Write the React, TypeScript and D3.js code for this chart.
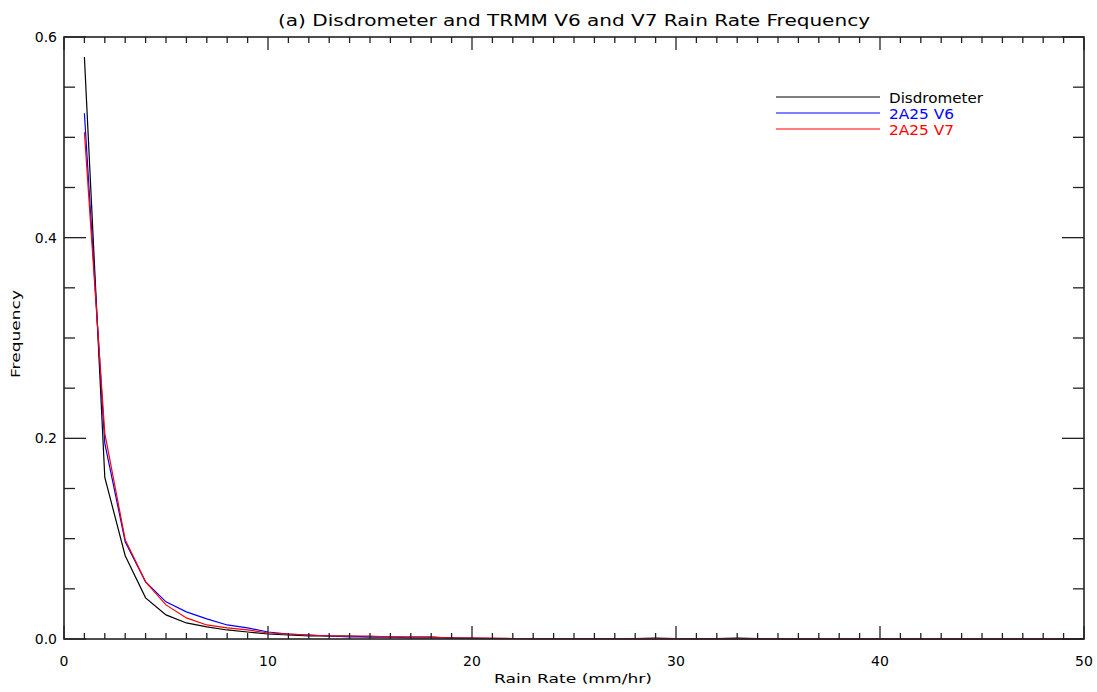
import React from "react";
import * as d3 from "d3";

const rainRate: number[] = d3.range(1, 51);

const disdrometer: number[] = [
  0.58, 0.161, 0.083, 0.041, 0.024, 0.016, 0.012, 0.009, 0.007, 0.005,
  0.004, 0.003, 0.003, 0.003, 0.002, 0.002, 0.002, 0.002, 0.001, 0.001,
  0.0005, 0.0005, 0.0005, 0.0005, 0.0005, 0.0005, 0.0005, 0.0005, 0.001, 0.0005,
  0.0005, 0.0005, 0.001, 0.0005, 0, 0, 0, 0, 0, 0,
  0, 0, 0, 0, 0, 0, 0, 0, 0, 0,
];

const v6: number[] = [
  0.524, 0.195, 0.097, 0.057, 0.037, 0.027, 0.02, 0.014, 0.011, 0.007,
  0.005, 0.004, 0.003, 0.002, 0.002, 0.002, 0.001, 0.001, 0.001, 0.0003,
  0.0003, 0.0003, 0, 0, 0, 0, 0, 0, 0, 0,
  0, 0, 0, 0, 0, 0, 0, 0, 0, 0,
  0, 0, 0, 0, 0, 0, 0, 0, 0, 0,
];

const v7: number[] = [
  0.505, 0.205, 0.099, 0.057, 0.034, 0.021, 0.014, 0.011, 0.009, 0.006,
  0.005, 0.004, 0.003, 0.003, 0.003, 0.002, 0.002, 0.002, 0.001, 0.001,
  0.001, 0.0005, 0.0005, 0.0005, 0.0005, 0.0005, 0.0005, 0.0003, 0.0003, 0.0003,
  0, 0, 0, 0, 0, 0, 0, 0, 0, 0,
  0, 0, 0, 0, 0, 0, 0, 0, 0, 0,
];

const seriesNames: string[] = ["Disdrometer", "2A25 V6", "2A25 V7"];
const seriesColors: string[] = ["#000000", "#0000ff", "#ff0000"];
const xMajorTicks: number[] = [0, 10, 20, 30, 40, 50];
const yMajorTicks: number[] = [0, 0.2, 0.4, 0.6];
const yTickLabels: string[] = ["0.0", "0.2", "0.4", "0.6"];

const W = 1097;
const H = 692;
const M = { left: 64, right: 1084, top: 37, bottom: 639 };
const FONT = "'DejaVu Sans', sans-serif";
const AX = "#222";

export default function App() {
  const x = d3.scaleLinear().domain([0, 50]).range([M.left, M.right]);
  const y = d3.scaleLinear().domain([0, 0.6]).range([M.bottom, M.top]);
  const line = d3
    .line<number>()
    .x((_, i) => x(rainRate[i]))
    .y((d) => y(d));
  const series = [disdrometer, v6, v7];
  const xMinor = d3.range(0, 51, 1);
  const yMinor = d3.range(0, 0.6001, 0.05);
  const legendWidths = [94, 65, 65];

  return (
    <svg
      width={W}
      height={H}
      style={{ position: "absolute", left: 0, top: 0, background: "#fff" }}
      fontFamily={FONT}
    >
      <rect x={0} y={0} width={W} height={H} fill="#fff" />
      <text x={574} y={26} textAnchor="middle" fontSize={16} textLength={592} lengthAdjust="spacingAndGlyphs" fill="#000">
        (a) Disdrometer and TRMM V6 and V7 Rain Rate Frequency
      </text>

      {series.map((s, i) => (
        <path key={i} d={line(s) || ""} fill="none" stroke={seriesColors[i]} strokeWidth={1.2} />
      ))}

      {/* frame */}
      <rect
        x={M.left}
        y={M.top}
        width={M.right - M.left}
        height={M.bottom - M.top}
        fill="none"
        stroke={AX}
        strokeWidth={1.6}
      />

      {/* x ticks */}
      {xMinor.map((t) => {
        const major = t % 10 === 0;
        const len = major ? 13 : 6;
        return (
          <g key={"xt" + t} stroke={AX} strokeWidth={1.3}>
            <line x1={x(t)} x2={x(t)} y1={M.bottom} y2={M.bottom - len} />
            <line x1={x(t)} x2={x(t)} y1={M.top} y2={M.top + len} />
          </g>
        );
      })}
      {xMajorTicks.map((t) => (
        <text key={"xl" + t} x={x(t)} y={666} textAnchor="middle" fontSize={14} fill="#000">
          {String(t)}
        </text>
      ))}

      {/* y ticks */}
      {yMinor.map((t, i) => {
        const major = i % 4 === 0;
        const len = major ? 22 : 11;
        return (
          <g key={"yt" + i} stroke={AX} strokeWidth={1.3}>
            <line x1={M.left} x2={M.left + len} y1={y(t)} y2={y(t)} />
            <line x1={M.right} x2={M.right - len} y1={y(t)} y2={y(t)} />
          </g>
        );
      })}
      {yMajorTicks.map((t, i) => (
        <text key={"yl" + t} x={57} y={y(t) + 5} textAnchor="end" fontSize={14} fill="#000">
          {yTickLabels[i]}
        </text>
      ))}

      <text x={573} y={683} textAnchor="middle" fontSize={13} textLength={158} lengthAdjust="spacingAndGlyphs" fill="#000">
        Rain Rate (mm/hr)
      </text>
      <text
        transform={`translate(20,334) rotate(-90)`}
        textAnchor="middle"
        fontSize={13}
        textLength={88}
        lengthAdjust="spacingAndGlyphs"
        fill="#000"
      >
        Frequency
      </text>

      {/* legend */}
      {seriesNames.map((n, i) => (
        <g key={"lg" + i}>
          <line x1={776} x2={880} y1={97 + i * 16} y2={97 + i * 16} stroke={seriesColors[i]} strokeWidth={1.2} />
          <text
            x={889}
            y={103 + i * 16}
            fontSize={14}
            textLength={legendWidths[i]}
            lengthAdjust="spacingAndGlyphs"
            fill={seriesColors[i]}
          >
            {n}
          </text>
        </g>
      ))}
    </svg>
  );
}
